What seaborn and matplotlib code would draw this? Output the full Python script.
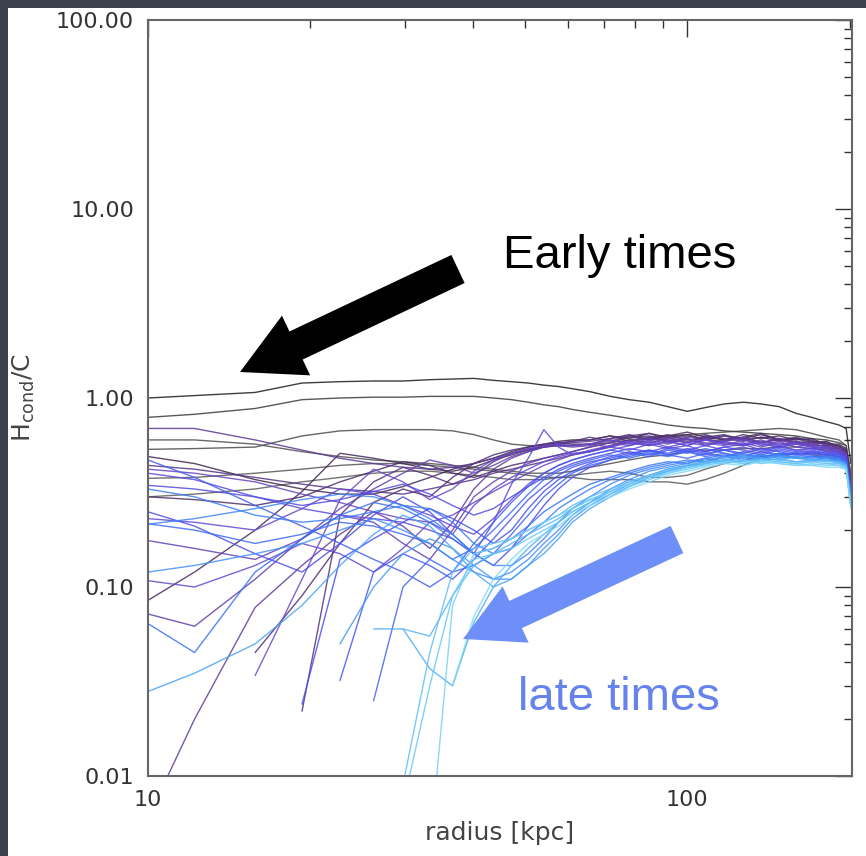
import numpy as np
import pandas as pd
import matplotlib
matplotlib.use("Agg")
import matplotlib.pyplot as plt
import seaborn as sns
from matplotlib.patches import FancyArrow, Rectangle
from matplotlib.transforms import IdentityTransform
from matplotlib.ticker import FixedLocator, NullFormatter, FuncFormatter, LogLocator

nan = np.nan

# radial bins [kpc]
radius = [10, 12.2, 15.8, 19.3, 22.7, 26.2, 29.7, 33.3, 36.7, 40.2, 43.7, 47.2, 50.7,
          54.2, 57.7, 61.2, 66, 72, 78, 85, 92, 100, 108, 117, 127, 137, 148, 159,
          170, 181, 191, 197, 201]

# H_cond / C profiles, one list per snapshot, grouped from early to late times
early = [
    [1.00, 1.03, 1.07, 1.20, 1.22, 1.23, 1.23, 1.25, 1.26, 1.27, 1.24, 1.22, 1.20, 1.17, 1.15, 1.12,
     1.08, 1.02, 0.98, 0.95, 0.90, 0.85, 0.89, 0.93, 0.95, 0.93, 0.90, 0.83, 0.79, 0.75, 0.72, 0.69, 0.45],
    [0.79, 0.82, 0.88, 0.98, 1.00, 1.01, 1.01, 1.02, 1.02, 1.02, 1.00, 0.98, 0.95, 0.92, 0.90, 0.87,
     0.84, 0.81, 0.78, 0.75, 0.72, 0.70, 0.69, 0.67, 0.66, 0.65, 0.64, 0.63, 0.61, 0.60, 0.58, 0.56, 0.40],
    [0.535, 0.54, 0.55, 0.63, 0.67, 0.68, 0.68, 0.68, 0.67, 0.64, 0.60, 0.57, 0.56, 0.56, 0.56, 0.56,
     0.57, 0.58, 0.60, 0.62, 0.63, 0.64, 0.65, 0.66, 0.67, 0.68, 0.69, 0.68, 0.65, 0.62, 0.60, 0.56, 0.38],
    [0.60, 0.60, 0.57, 0.52, 0.49, 0.47, 0.46, 0.45, 0.44, 0.43, 0.42, 0.41, 0.40, 0.40, 0.40, 0.41,
     0.43, 0.45, 0.47, 0.49, 0.50, 0.52, 0.53, 0.53, 0.54, 0.54, 0.55, 0.55, 0.54, 0.53, 0.52, 0.50, 0.34],
    [0.376, 0.38, 0.40, 0.42, 0.44, 0.45, 0.45, 0.44, 0.43, 0.42, 0.41, 0.40, 0.39, 0.38, 0.38, 0.38,
     0.37, 0.37, 0.37, 0.36, 0.36, 0.35, 0.37, 0.40, 0.44, 0.48, 0.50, 0.51, 0.51, 0.50, 0.49, 0.47, 0.33],
    [0.30, 0.31, 0.33, 0.36, 0.38, 0.40, 0.41, 0.41, 0.40, 0.39, 0.38, 0.37, 0.37, 0.37, 0.38, 0.39,
     0.40, 0.41, 0.40, 0.38, 0.38, 0.39, 0.42, 0.45, 0.47, 0.49, 0.50, 0.51, 0.50, 0.49, 0.48, 0.46, 0.32],
]

dark_purple = [
    [0.49, 0.45, 0.37, 0.33, 0.31, 0.31, 0.34, 0.38, 0.42, 0.45, 0.48, 0.52, 0.55, 0.57, 0.59, 0.60,
     0.60, 0.63, 0.61, 0.65, 0.62, 0.64, 0.60, 0.63, 0.61, 0.64, 0.60, 0.61, 0.58, 0.59, 0.55, 0.53, 0.35],
    [0.085, 0.12, 0.20, 0.32, 0.51, 0.48, 0.45, 0.42, 0.41, 0.43, 0.47, 0.50, 0.53, 0.56, 0.58, 0.57,
     0.57, 0.61, 0.64, 0.60, 0.63, 0.66, 0.62, 0.60, 0.64, 0.61, 0.63, 0.60, 0.61, 0.57, 0.57, 0.54, 0.34],
    [0.30, 0.29, 0.27, 0.30, 0.36, 0.41, 0.46, 0.44, 0.40, 0.38, 0.41, 0.44, 0.46, 0.48, 0.50, 0.52,
     0.55, 0.58, 0.62, 0.63, 0.59, 0.62, 0.64, 0.60, 0.62, 0.65, 0.60, 0.62, 0.59, 0.58, 0.56, 0.53, 0.36],
    [nan, nan, 0.045, 0.09, 0.17, 0.28, 0.33, 0.30, 0.38, 0.45, 0.50, 0.53, 0.55, 0.57, 0.58, 0.59,
     0.60, 0.63, 0.59, 0.61, 0.64, 0.60, 0.62, 0.64, 0.60, 0.62, 0.59, 0.61, 0.60, 0.56, 0.56, 0.52, 0.33],
    [nan, nan, nan, 0.022, 0.24, 0.36, 0.43, 0.39, 0.35, 0.39, 0.46, 0.51, 0.54, 0.55, 0.57, 0.59,
     0.62, 0.59, 0.63, 0.65, 0.60, 0.58, 0.63, 0.61, 0.59, 0.62, 0.61, 0.58, 0.59, 0.57, 0.54, 0.51, 0.34],
    [0.44, 0.42, 0.38, 0.35, 0.33, 0.32, 0.31, 0.33, 0.35, 0.37, 0.40, 0.42, 0.44, 0.46, 0.48, 0.50,
     0.52, 0.56, 0.60, 0.58, 0.61, 0.63, 0.60, 0.59, 0.62, 0.58, 0.61, 0.59, 0.57, 0.58, 0.54, 0.52, 0.35],
]

purple = [
    [0.69, 0.69, 0.60, 0.53, 0.48, 0.45, 0.43, 0.42, 0.43, 0.45, 0.48, 0.51, 0.53, 0.55, 0.57, 0.58,
     0.59, 0.61, 0.63, 0.60, 0.62, 0.59, 0.61, 0.63, 0.60, 0.58, 0.60, 0.57, 0.58, 0.55, 0.54, 0.51, 0.35],
    [0.006, 0.020, 0.078, 0.13, 0.19, 0.25, 0.21, 0.16, 0.22, 0.33, 0.42, 0.48, 0.52, 0.55, 0.56, 0.56,
     0.57, 0.55, 0.59, 0.62, 0.58, 0.61, 0.57, 0.60, 0.62, 0.58, 0.61, 0.57, 0.56, 0.56, 0.53, 0.51, 0.33],
    [0.072, 0.062, 0.11, 0.18, 0.26, 0.33, 0.40, 0.47, 0.44, 0.40, 0.44, 0.49, 0.52, 0.55, 0.56, 0.55,
     0.56, 0.60, 0.57, 0.61, 0.59, 0.56, 0.61, 0.58, 0.57, 0.60, 0.56, 0.59, 0.56, 0.54, 0.54, 0.50, 0.34],
    [0.176, 0.16, 0.14, 0.18, 0.24, 0.22, 0.17, 0.14, 0.20, 0.30, 0.36, 0.41, 0.45, 0.48, 0.50, 0.52,
     0.55, 0.58, 0.56, 0.60, 0.57, 0.61, 0.56, 0.59, 0.61, 0.56, 0.59, 0.55, 0.57, 0.55, 0.52, 0.50, 0.33],
    [0.42, 0.40, 0.36, 0.31, 0.28, 0.25, 0.23, 0.22, 0.24, 0.28, 0.32, 0.36, 0.40, 0.44, 0.47, 0.50,
     0.53, 0.56, 0.59, 0.57, 0.61, 0.58, 0.60, 0.57, 0.56, 0.59, 0.57, 0.58, 0.55, 0.54, 0.52, 0.50, 0.32],
    [nan, nan, 0.034, 0.11, 0.29, 0.42, 0.36, 0.29, 0.33, 0.41, 0.47, 0.51, 0.54, 0.56, 0.57, 0.56,
     0.57, 0.60, 0.58, 0.56, 0.59, 0.61, 0.58, 0.56, 0.60, 0.57, 0.55, 0.58, 0.56, 0.53, 0.53, 0.49, 0.33],
    [0.108, 0.10, 0.13, 0.17, 0.15, 0.12, 0.16, 0.22, 0.19, 0.27, 0.33, 0.38, 0.42, 0.46, 0.49, 0.51,
     0.52, 0.55, 0.58, 0.56, 0.59, 0.56, 0.60, 0.57, 0.58, 0.55, 0.58, 0.55, 0.54, 0.55, 0.51, 0.49, 0.32],
    [0.23, 0.22, 0.20, 0.26, 0.33, 0.31, 0.27, 0.24, 0.21, 0.19, 0.23, 0.29, 0.35, 0.40, 0.44, 0.47,
     0.50, 0.53, 0.56, 0.59, 0.55, 0.58, 0.56, 0.59, 0.56, 0.58, 0.55, 0.57, 0.55, 0.52, 0.52, 0.49, 0.33],
]

blue = [
    [0.40, 0.37, 0.30, 0.26, 0.24, 0.23, 0.22, 0.20, 0.18, 0.15, 0.22, 0.35, 0.48, 0.68, 0.55, 0.50,
     0.52, 0.55, 0.53, 0.57, 0.54, 0.56, 0.52, 0.55, 0.57, 0.53, 0.56, 0.53, 0.54, 0.52, 0.51, 0.49, 0.32],
    [0.345, 0.33, 0.30, 0.27, 0.29, 0.32, 0.35, 0.31, 0.27, 0.24, 0.26, 0.30, 0.34, 0.38, 0.42, 0.45,
     0.48, 0.51, 0.54, 0.52, 0.55, 0.53, 0.56, 0.53, 0.55, 0.52, 0.55, 0.53, 0.53, 0.51, 0.51, 0.48, 0.31],
    [0.25, 0.21, 0.15, 0.12, 0.17, 0.24, 0.30, 0.25, 0.19, 0.15, 0.13, 0.16, 0.21, 0.27, 0.33, 0.38,
     0.43, 0.47, 0.50, 0.53, 0.51, 0.54, 0.52, 0.55, 0.53, 0.51, 0.54, 0.52, 0.52, 0.51, 0.50, 0.48, 0.31],
    [nan, nan, nan, 0.024, 0.14, 0.18, 0.22, 0.26, 0.23, 0.20, 0.17, 0.20, 0.26, 0.32, 0.37, 0.41,
     0.45, 0.49, 0.52, 0.50, 0.54, 0.52, 0.50, 0.53, 0.51, 0.54, 0.52, 0.50, 0.52, 0.50, 0.50, 0.47, 0.30],
    [nan, nan, nan, nan, 0.032, 0.12, 0.15, 0.13, 0.11, 0.14, 0.18, 0.23, 0.29, 0.34, 0.39, 0.43,
     0.46, 0.48, 0.51, 0.53, 0.50, 0.53, 0.51, 0.49, 0.52, 0.50, 0.53, 0.51, 0.51, 0.50, 0.49, 0.47, 0.31],
    [0.47, 0.38, 0.27, 0.21, 0.17, 0.14, 0.12, 0.10, 0.12, 0.17, 0.22, 0.28, 0.34, 0.40, 0.44, 0.47,
     0.50, 0.53, 0.51, 0.49, 0.53, 0.51, 0.54, 0.51, 0.49, 0.52, 0.50, 0.51, 0.50, 0.50, 0.49, 0.47, 0.30],
    [nan, nan, nan, nan, nan, 0.025, 0.10, 0.14, 0.12, 0.13, 0.15, 0.19, 0.24, 0.30, 0.35, 0.40,
     0.44, 0.47, 0.49, 0.52, 0.50, 0.48, 0.51, 0.53, 0.50, 0.48, 0.51, 0.50, 0.49, 0.49, 0.48, 0.46, 0.30],
    [0.216, 0.20, 0.17, 0.19, 0.22, 0.21, 0.19, 0.17, 0.14, 0.16, 0.20, 0.25, 0.31, 0.37, 0.41, 0.44,
     0.47, 0.50, 0.48, 0.51, 0.49, 0.52, 0.49, 0.51, 0.48, 0.50, 0.49, 0.48, 0.49, 0.48, 0.47, 0.46, 0.30],
]

light_blue = [
    [0.064, 0.045, 0.12, 0.18, 0.24, 0.28, 0.26, 0.22, 0.18, 0.15, 0.16, 0.18, 0.21, 0.25, 0.28, 0.31,
     0.35, 0.38, 0.41, 0.44, 0.46, 0.45, 0.48, 0.50, 0.47, 0.49, 0.51, 0.48, 0.49, 0.48, 0.48, 0.46, 0.30],
    [0.33, 0.30, 0.24, 0.22, 0.23, 0.25, 0.27, 0.26, 0.22, 0.17, 0.15, 0.16, 0.19, 0.22, 0.26, 0.29,
     0.33, 0.37, 0.40, 0.43, 0.45, 0.47, 0.46, 0.49, 0.51, 0.48, 0.50, 0.49, 0.48, 0.49, 0.48, 0.46, 0.30],
    [0.215, 0.23, 0.26, 0.29, 0.31, 0.30, 0.27, 0.23, 0.19, 0.15, 0.13, 0.13, 0.15, 0.18, 0.22, 0.26,
     0.30, 0.35, 0.39, 0.42, 0.44, 0.46, 0.48, 0.46, 0.49, 0.50, 0.48, 0.49, 0.47, 0.48, 0.47, 0.45, 0.29],
    [0.12, 0.13, 0.15, 0.17, 0.20, 0.23, 0.20, 0.17, 0.14, 0.12, 0.11, 0.12, 0.14, 0.17, 0.20, 0.24,
     0.28, 0.33, 0.37, 0.41, 0.43, 0.45, 0.47, 0.49, 0.47, 0.48, 0.50, 0.48, 0.49, 0.47, 0.47, 0.45, 0.29],
    [nan, nan, nan, nan, 0.05, 0.10, 0.15, 0.18, 0.16, 0.13, 0.11, 0.11, 0.13, 0.16, 0.19, 0.23,
     0.27, 0.31, 0.35, 0.39, 0.42, 0.44, 0.46, 0.48, 0.50, 0.47, 0.49, 0.48, 0.47, 0.48, 0.46, 0.44, 0.29],
    [0.028, 0.035, 0.05, 0.08, 0.13, 0.19, 0.24, 0.21, 0.16, 0.12, 0.10, 0.11, 0.13, 0.15, 0.18, 0.22,
     0.26, 0.30, 0.34, 0.38, 0.41, 0.44, 0.45, 0.47, 0.49, 0.48, 0.47, 0.49, 0.47, 0.47, 0.46, 0.44, 0.28],
]

cyan = [
    [nan, nan, nan, nan, nan, 0.06, 0.06, 0.037, 0.03, 0.065, 0.10, 0.13, 0.16, 0.19, 0.22, 0.25,
     0.28, 0.32, 0.35, 0.38, 0.41, 0.43, 0.45, 0.47, 0.46, 0.48, 0.47, 0.46, 0.47, 0.46, 0.46, 0.44, 0.28],
    [nan, nan, nan, nan, nan, nan, 0.06, 0.055, 0.09, 0.13, 0.15, 0.17, 0.19, 0.21, 0.23, 0.26,
     0.29, 0.32, 0.36, 0.39, 0.42, 0.44, 0.46, 0.45, 0.47, 0.46, 0.48, 0.46, 0.46, 0.47, 0.45, 0.44, 0.28],
    [nan, nan, nan, nan, nan, nan, 0.009, 0.045, 0.12, 0.16, 0.17, 0.18, 0.20, 0.22, 0.24, 0.27,
     0.30, 0.33, 0.36, 0.39, 0.41, 0.43, 0.45, 0.47, 0.45, 0.47, 0.46, 0.45, 0.46, 0.45, 0.45, 0.43, 0.27],
    [nan, nan, nan, nan, nan, nan, 0.007, 0.03, 0.09, 0.14, 0.15, 0.16, 0.18, 0.20, 0.22, 0.25,
     0.28, 0.31, 0.34, 0.37, 0.40, 0.42, 0.44, 0.46, 0.47, 0.45, 0.46, 0.45, 0.44, 0.45, 0.44, 0.43, 0.27],
    [nan, nan, nan, nan, nan, nan, nan, 0.004, 0.08, 0.15, 0.16, 0.18, 0.20, 0.22, 0.24, 0.26,
     0.29, 0.32, 0.35, 0.38, 0.40, 0.43, 0.44, 0.46, 0.45, 0.47, 0.45, 0.44, 0.45, 0.44, 0.44, 0.42, 0.27],
    [nan, nan, nan, nan, nan, nan, nan, nan, 0.03, 0.07, 0.11, 0.14, 0.17, 0.19, 0.21, 0.24,
     0.27, 0.30, 0.33, 0.36, 0.39, 0.41, 0.43, 0.45, 0.44, 0.46, 0.45, 0.44, 0.44, 0.43, 0.43, 0.42, 0.26],
]

x_ticks = [10, 100]
x_tick_labels = ["10", "100"]
y_ticks = [0.01, 0.1, 1, 10, 100]

# ---- colours: grey for the first snapshots, then purple -> blue -> cyan
late_profiles = dark_purple + purple + blue + light_blue + cyan
early_colors = ["#1c1c1c", "#3a3a3a", "#4a4a4a", "#505050", "#565656", "#5c5c5c"]
late_colors = sns.blend_palette(["#40284f", "#5a3590", "#6a48c8", "#4a4cf0",
                                 "#3a72f5", "#4aa8f8", "#7cd8f8"], n_colors=len(late_profiles))
palette = list(early_colors) + list(late_colors)
profiles = early + late_profiles

rows = []
for i, prof in enumerate(profiles):
    for r, v in zip(radius, prof):
        rows.append({"snapshot": i, "radius": r, "H": v})
df = pd.DataFrame(rows).dropna()

sns.set_theme(style="white")
plt.rcParams["font.family"] = ["DejaVu Sans"]
plt.rcParams["mathtext.default"] = "regular"

W, H = 866, 856
fig = plt.figure(figsize=(W / 100, H / 100), dpi=100, facecolor="#3c414d")
fig.add_artist(Rectangle((8 / W, 0), 1, (H - 8) / H, transform=fig.transFigure,
                         facecolor="white", edgecolor="none", zorder=-5))

ax = fig.add_axes([148 / W, 80 / H, 704 / W, 756 / H])
ax.set_facecolor("white")

sns.lineplot(data=df, x="radius", y="H", hue="snapshot", palette=palette,
             estimator=None, sort=False, legend=False, linewidth=1.0, alpha=0.85, ax=ax)

ax.set_xscale("log")
ax.set_yscale("log")
ax.set_xlim(10, 202)
ax.set_ylim(0.01, 100)

ax.xaxis.set_major_locator(FixedLocator(x_ticks))
ax.xaxis.set_major_formatter(FuncFormatter(lambda v, p: x_tick_labels[x_ticks.index(v)] if v in x_ticks else ""))
ax.xaxis.set_minor_locator(FixedLocator([20, 30, 40, 50, 60, 70, 80, 90, 200]))
ax.xaxis.set_minor_formatter(NullFormatter())
ax.yaxis.set_major_locator(FixedLocator(y_ticks))
ax.yaxis.set_major_formatter(FuncFormatter(lambda v, p: f"{v:.2f}"))
ax.yaxis.set_minor_locator(LogLocator(base=10, subs=np.arange(2, 10), numticks=20))
ax.yaxis.set_minor_formatter(NullFormatter())

ax.tick_params(which="both", direction="in", top=True, right=True, color="#333333", width=1.0)
ax.tick_params(which="major", length=12, labelsize=16, labelcolor="#333333", pad=10)
ax.tick_params(which="minor", length=6)
for s in ax.spines.values():
    s.set_color("#666666")
    s.set_linewidth(1.5)

ax.set_xlabel("radius [kpc]", fontsize=18, color="#444444", labelpad=8)
ax.set_ylabel(r"H$_{\mathrm{cond}}$/C", fontsize=18, color="#444444")
ax.yaxis.set_label_coords(-0.157, 0.5)

# ---- annotation arrows (figure pixel coordinates)
fig.add_artist(FancyArrow(458, H - 269, -218, -103, width=31, head_width=66, head_length=62,
                          length_includes_head=True, transform=IdentityTransform(),
                          facecolor="black", edgecolor="none", zorder=6))
fig.add_artist(FancyArrow(677, H - 539.5, -214, -99.5, width=30, head_width=62, head_length=58,
                          length_includes_head=True, transform=IdentityTransform(),
                          facecolor="#6f8ff8", edgecolor="none", zorder=6))

fig.text(503 / W, 1 - 268 / H, "Early times", fontsize=34, family=["Liberation Sans", "DejaVu Sans"],
         color="black", ha="left", va="baseline", zorder=7)
fig.text(518 / W, 1 - 710 / H, "late times", fontsize=34, family=["Liberation Sans", "DejaVu Sans"],
         color="#6682ee", ha="left", va="baseline", zorder=7)

fig.savefig("out.png", dpi=100, facecolor=fig.get_facecolor())
